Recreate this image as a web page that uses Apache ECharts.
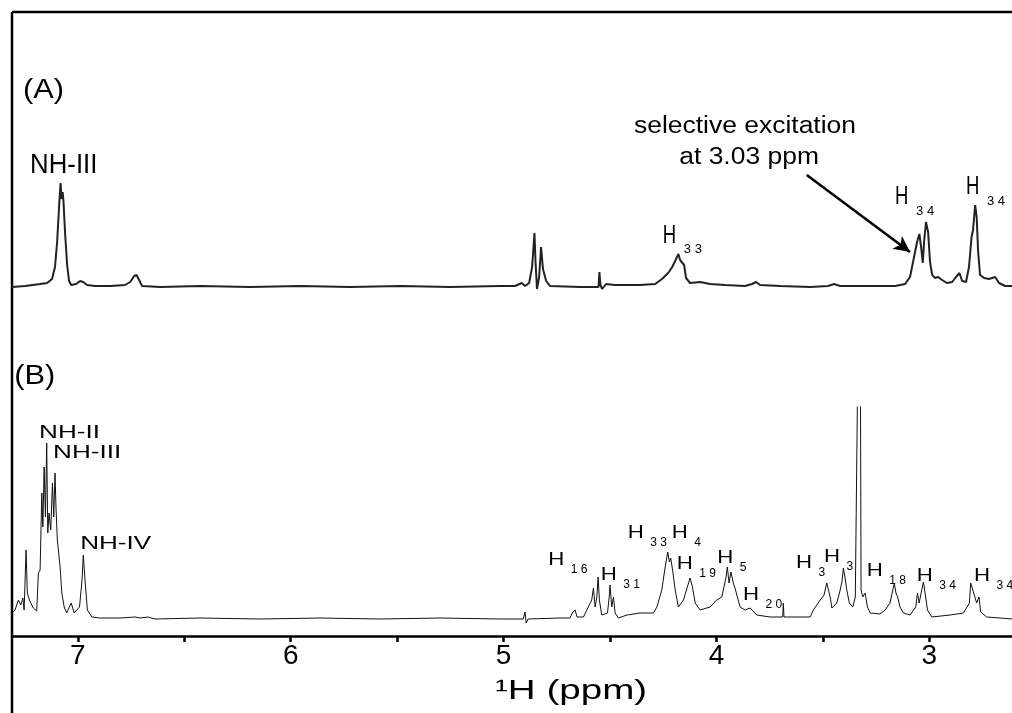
<!DOCTYPE html>
<html>
<head>
<meta charset="utf-8">
<script src="https://cdn.jsdelivr.net/npm/echarts@6/dist/echarts.min.js"></script>
<style>
  html, body { margin: 0; padding: 0; background: #fff; }
  #chart { width: 1012px; height: 713px; }
</style>
</head>
<body>
<div id="chart"></div>
<script>
// spectrum (A): selective excitation at 3.03 ppm
const ppmA = [
  7.309, 7.247, 7.177, 7.144, 7.121, 7.107, 7.097, 7.088, 7.081, 7.076,
  7.071, 7.067, 7.060, 7.050, 7.041, 7.031, 7.008, 6.989, 6.975, 6.956,
  6.919, 6.848, 6.778, 6.754, 6.735, 6.724, 6.712, 6.698, 6.613, 6.426,
  6.191, 5.956, 5.721, 5.486, 5.251, 5.016, 4.946, 4.915, 4.899, 4.880,
  4.866, 4.855, 4.850, 4.846, 4.843, 4.833, 4.824, 4.815, 4.800, 4.782,
  4.641, 4.554, 4.550, 4.545, 4.537, 4.519, 4.476, 4.359, 4.288, 4.256,
  4.227, 4.208, 4.194, 4.185, 4.179, 4.171, 4.162, 4.152, 4.143, 4.124,
  4.077, 4.030, 3.960, 3.866, 3.833, 3.814, 3.795, 3.701, 3.560, 3.476,
  3.448, 3.419, 3.278, 3.161, 3.114, 3.091, 3.072, 3.058, 3.047, 3.039,
  3.031, 3.025, 3.016, 3.006, 2.997, 2.987, 2.973, 2.959, 2.940, 2.918,
  2.893, 2.875, 2.859, 2.846, 2.828, 2.814, 2.802, 2.795, 2.785, 2.778,
  2.771, 2.762, 2.743, 2.720, 2.691, 2.673, 2.644, 2.612
];
const intA = [
  0, 1, 3, 4, 8, 20, 45, 80, 104, 88,
  95, 85, 55, 22, 6, 2, 3, 6, 5, 2,
  1, 1, 2, 5, 11, 12, 7, 1, 0, 1,
  0, 1, 0, 1, 0, 1, 1, 4, 1, 4,
  20, 54, 25, 27, -2, 10, 40, 18, 6, 1,
  0, 0, 15, 2, -2, 3, 2, 2, 3, 8,
  14, 20, 26, 28, 33, 27, 29, 22, 9, 4,
  5, 3, 2, 1, 3, 5, 2, 1, 0, 1,
  3, 1, 1, 1, 3, 10, 30, 45, 53, 40,
  24, 45, 65, 55, 25, 12, 9, 10, 7, 4,
  5, 10, 14, 6, 5, 20, 50, 57, 82, 70,
  35, 12, 9, 8, 10, 4, 1, 1
];

// spectrum (B): full 1H spectrum
const ppmB = [
  7.309, 7.295, 7.279, 7.268, 7.258, 7.252, 7.243, 7.237, 7.227, 7.216,
  7.209, 7.193, 7.185, 7.177, 7.169, 7.164, 7.158, 7.152, 7.146, 7.141,
  7.135, 7.127, 7.119, 7.113, 7.107, 7.102, 7.096, 7.089, 7.083, 7.075,
  7.064, 7.052, 7.031, 7.017, 6.992, 6.980, 6.974, 6.966, 6.955, 6.934,
  6.895, 6.801, 6.731, 6.707, 6.670, 6.637, 6.426, 6.144, 5.862, 5.580,
  5.298, 5.016, 4.908, 4.899, 4.894, 4.885, 4.735, 4.688, 4.675, 4.664,
  4.655, 4.625, 4.586, 4.578, 4.570, 4.562, 4.556, 4.550, 4.539, 4.512,
  4.504, 4.500, 4.492, 4.484, 4.476, 4.461, 4.420, 4.359, 4.296, 4.280,
  4.257, 4.241, 4.229, 4.221, 4.215, 4.205, 4.194, 4.179, 4.155, 4.137,
  4.124, 4.113, 4.100, 4.077, 4.030, 3.999, 3.975, 3.955, 3.949, 3.941,
  3.932, 3.921, 3.913, 3.902, 3.889, 3.866, 3.842, 3.811, 3.748, 3.689,
  3.686, 3.683, 3.654, 3.560, 3.545, 3.513, 3.495, 3.482, 3.474, 3.466,
  3.458, 3.435, 3.419, 3.411, 3.404, 3.396, 3.388, 3.376, 3.360, 3.348,
  3.336, 3.324, 3.321, 3.313, 3.302, 3.291, 3.278, 3.232, 3.208, 3.185,
  3.172, 3.165, 3.157, 3.149, 3.138, 3.122, 3.091, 3.064, 3.056, 3.048,
  3.036, 3.028, 3.019, 3.009, 2.989, 2.903, 2.840, 2.812, 2.806, 2.796,
  2.787, 2.778, 2.767, 2.759, 2.731, 2.668, 2.612
];
const intB = [
  6, 9, 19, 14, 21, 9, 69, 26, 19, 14,
  11, 8, 46, 49, 126, 92, 152, 102, 176, 86,
  106, 89, 136, 102, 146, 109, 79, 79, 52, 26,
  12, 6, 16, 6, 12, 39, 64, 39, 9, 2,
  1, 1, 2, 1, 2, 0, 1, 0, 1, 0,
  1, 0, 0, 7, -4, 0, 1, 1, 7, 9,
  2, 2, 19, 31, 12, 22, 42, 19, 4, 6,
  22, 34, 12, 22, 6, 1, 4, 6, 6, 12,
  29, 52, 67, 57, 61, 47, 29, 12, 19, 32,
  41, 32, 16, 9, 12, 19, 22, 42, 52, 36,
  47, 36, 31, 22, 12, 9, 11, 4, 2, 2,
  16, 2, 2, 2, 9, 19, 24, 36, 37, 22,
  11, 16, 29, 37, 51, 41, 29, 16, 12, 22,
  260, 260, 29, 22, 26, 12, 6, 5, 9, 16,
  29, 36, 26, 22, 12, 6, 4, 12, 26, 16,
  29, 37, 24, 9, 2, 4, 6, 16, 36, 29,
  31, 16, 22, 7, 2, 1, 0
];

const tickValues = [3, 3.5, 4, 4.5, 5, 5.5, 6, 6.5, 7];
const tickLabels = [3, 4, 5, 6, 7];

// annotations: [text, subscript, ppm, height above baseline]
const notesA = [
  ['(A)', '', 7.257, 197],
  ['NH-III', '', 7.224, 122],
  ['H', '3 3', 4.252, 51],
  ['H', '3 4', 3.161, 89.5],
  ['H', '3 4', 2.828, 99.5]
];
const notesB = [
  ['(B)', '', 7.299, 243],
  ['NH-II', '', 7.182, 185.5],
  ['NH-III', '', 7.116, 166],
  ['NH-IV', '', 6.989, 75],
  ['H', '1 6', 4.790, 59],
  ['H', '3 1', 4.544, 44],
  ['H', '3 3', 4.417, 86],
  ['H', '4', 4.210, 86],
  ['H', '1 9', 4.187, 55],
  ['H', '5', 3.997, 61.5],
  ['H', '2 0', 3.875, 24],
  ['H', '3', 3.626, 56],
  ['H', '3', 3.495, 62],
  ['H', '1 8', 3.294, 48],
  ['H', '3 4', 3.059, 43.5],
  ['H', '3 4', 2.790, 43.5]
];
const excitationText = [['selective excitation', 3.866, 160], ['at 3.03 ppm', 3.847, 129]];
const arrowFrom = [3.576, 112];
const arrowTo = [3.091, 35];
const axisTitle = ['\u00b9H (ppm)', 4.683, -73];

const FONT = '"Liberation Sans", Arial, Helvetica, sans-serif';
const chart = echarts.init(document.getElementById('chart'));
const zip = (xs, ys) => xs.map((x, i) => [x, ys[i]]);

const xBase = {
  type: 'value',
  min: 2.612,
  max: 7.309,
  inverse: true,
  splitLine: { show: false }
};

chart.setOption({
  animation: false,
  backgroundColor: '#fff',
  grid: [
    { left: 12, right: 0, top: 150, height: 150 },
    { left: 12, right: 0, top: 407, height: 229 }
  ],
  xAxis: [
    Object.assign({}, xBase, { gridIndex: 0, show: false }),
    Object.assign({}, xBase, {
      gridIndex: 1,
      axisLine: { onZero: false, lineStyle: { color: '#000', width: 2.5 } },
      axisTick: { customValues: tickValues, length: 6, lineStyle: { color: '#000', width: 2.5 } },
      axisLabel: { customValues: tickLabels, color: '#000', fontSize: 28, fontFamily: FONT, margin: 6 }
    })
  ],
  yAxis: [
    { gridIndex: 0, type: 'value', min: -13, max: 137, show: false },
    { gridIndex: 1, type: 'value', min: -17, max: 212, show: false }
  ],
  series: [
    {
      type: 'line',
      xAxisIndex: 0,
      yAxisIndex: 0,
      data: zip(ppmA, intA),
      showSymbol: false,
      lineStyle: { color: '#222', width: 2 },
      markLine: {
        silent: true,
        symbol: ['none', 'arrow'],
        symbolSize: [12, 16],
        lineStyle: { color: '#000', width: 2.5, type: 'solid' },
        label: { show: false },
        data: [[{ coord: arrowFrom }, { coord: arrowTo }]]
      }
    },
    {
      type: 'line',
      xAxisIndex: 1,
      yAxisIndex: 1,
      data: zip(ppmB, intB),
      showSymbol: false,
      lineStyle: { color: '#111', width: 1 }
    }
  ]
});

// text helper: element scaled around its anchor
function txt(x, y, text, size, sx, sy, align) {
  return {
    type: 'text',
    x: x, y: y,
    scaleX: sx || 1, scaleY: sy || 1,
    silent: true,
    style: {
      text: text,
      fontSize: size,
      fontFamily: FONT,
      fill: '#000',
      textAlign: align || 'left', align: align || 'left',
      textVerticalAlign: 'middle', verticalAlign: 'middle'
    }
  };
}

function noteElements(notes, gridIndex) {
  const big = gridIndex === 0;
  const out = [];
  notes.forEach(([text, sub, ppm, h]) => {
    const [x, y] = chart.convertToPixel({ gridIndex: gridIndex }, [ppm, h]);
    if (text.charAt(0) === '(') {
      out.push(txt(x, y, text, 28, 1.1));
    } else if (text !== 'H') {
      out.push(big ? txt(x, y, text, 28, 0.92) : txt(x, y, text, 18, 1.45));
    } else if (big) {
      out.push(txt(x, y, 'H', 25, 0.74));
      out.push(txt(x + 21, y + 13.5, sub, 13));
    } else {
      out.push(txt(x, y, 'H', 19, 1.17));
      out.push(txt(x + 22.5, y + 10, sub, 12));
    }
  });
  return out;
}

const elements = [
  // frame
  { type: 'line', silent: true, shape: { x1: 12, y1: 12, x2: 12, y2: 713 }, style: { stroke: '#000', lineWidth: 2.5 } },
  { type: 'line', silent: true, shape: { x1: 12, y1: 12, x2: 1012, y2: 12 }, style: { stroke: '#000', lineWidth: 2.5 } }
]
  .concat(noteElements(notesA, 0))
  .concat(noteElements(notesB, 1));

excitationText.forEach(([t, ppm, h]) => {
  const [x, y] = chart.convertToPixel({ gridIndex: 0 }, [ppm, h]);
  elements.push(txt(x, y, t, 23, 1.15, 1, 'center'));
});

{
  const [x, y] = chart.convertToPixel({ gridIndex: 1 }, [axisTitle[1], axisTitle[2]]);
  elements.push(txt(x, y, axisTitle[0], 27, 1.43, 1, 'center'));
}

chart.setOption({ graphic: { elements: elements } });
</script>
</body>
</html>
